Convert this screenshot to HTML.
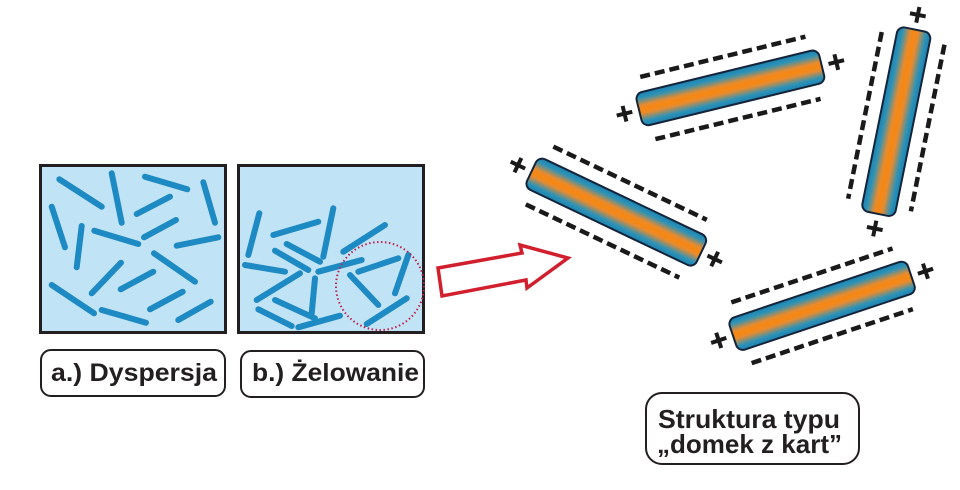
<!DOCTYPE html>
<html><head><meta charset="utf-8"><style>
html,body{margin:0;padding:0;background:#fff;}
svg{display:block;}
text{font-family:"Liberation Sans",Arial,sans-serif;font-weight:bold;fill:#231f20;}
</style></head><body>
<svg width="960" height="490" viewBox="0 0 960 490" xmlns="http://www.w3.org/2000/svg">
<defs>
<linearGradient id="rg" x1="0" y1="0" x2="0" y2="1">
<stop offset="0" stop-color="#1a82b2"/>
<stop offset="0.16" stop-color="#2f93b6"/>
<stop offset="0.38" stop-color="#e68b30"/>
<stop offset="0.5" stop-color="#f8870f"/>
<stop offset="0.62" stop-color="#e68b30"/>
<stop offset="0.84" stop-color="#2f93b6"/>
<stop offset="1" stop-color="#1a82b2"/>
</linearGradient>
<g id="rod">
<line x1="-85" y1="-32" x2="85" y2="-32" stroke="#1a1a1a" stroke-width="4.5" stroke-dasharray="10 5"/>
<line x1="-85" y1="32" x2="85" y2="32" stroke="#1a1a1a" stroke-width="4.5" stroke-dasharray="10 5"/>
<rect x="-94" y="-17" width="188" height="34" rx="7" fill="url(#rg)" stroke="#14243a" stroke-width="2"/>
<path d="M-117 0 H-101 M-109 -8 V8 M101 0 H117 M109 -8 V8" stroke="#1a1a1a" stroke-width="4"/>
</g>
</defs>

<!-- Box a -->
<rect x="40.5" y="165.5" width="185" height="167" fill="#c0e3f5" stroke="#231f20" stroke-width="3"/>
<g stroke="#1e8ac4" stroke-width="6" stroke-linecap="round">
<line x1="59.3" y1="179.3" x2="101.7" y2="206.7"/>
<line x1="111.7" y1="173.3" x2="121.7" y2="222.7"/>
<line x1="145" y1="176.7" x2="187.3" y2="189.3"/>
<line x1="203.3" y1="182.3" x2="215" y2="222.7"/>
<line x1="51.7" y1="206.7" x2="65" y2="247.3"/>
<line x1="136.7" y1="214" x2="170" y2="196.7"/>
<line x1="81.7" y1="226" x2="76.7" y2="267.3"/>
<line x1="94.3" y1="230.7" x2="138.3" y2="244"/>
<line x1="144" y1="237.3" x2="176" y2="220"/>
<line x1="176.7" y1="245.7" x2="218.3" y2="237.3"/>
<line x1="154" y1="253.3" x2="195" y2="281.7"/>
<line x1="91.7" y1="293.3" x2="121" y2="262.7"/>
<line x1="120.7" y1="289.3" x2="153.3" y2="271.7"/>
<line x1="51.7" y1="285" x2="94" y2="313.3"/>
<line x1="101.7" y1="310" x2="146" y2="322.7"/>
<line x1="150" y1="309.3" x2="182.7" y2="291.7"/>
<line x1="178.3" y1="320" x2="210.7" y2="301.7"/>
</g>

<!-- Box b -->
<rect x="238.5" y="165.5" width="185" height="167" fill="#c0e3f5" stroke="#231f20" stroke-width="3"/>
<g stroke="#1e8ac4" stroke-width="6" stroke-linecap="round">
<line x1="259.3" y1="213.3" x2="248.3" y2="255"/>
<line x1="273.3" y1="235" x2="318.3" y2="221.7"/>
<line x1="333.3" y1="208.3" x2="323.3" y2="256.7"/>
<line x1="286.7" y1="244" x2="320" y2="261.7"/>
<line x1="275" y1="250.7" x2="308.3" y2="270"/>
<line x1="245" y1="265" x2="285" y2="271.7"/>
<line x1="343.3" y1="251.7" x2="385" y2="225"/>
<line x1="318.3" y1="271.7" x2="361.7" y2="260"/>
<line x1="358.3" y1="271.7" x2="398.3" y2="258.3"/>
<line x1="300" y1="273.3" x2="256.7" y2="300"/>
<line x1="315" y1="278.3" x2="311.7" y2="313.3"/>
<line x1="408.3" y1="255" x2="395" y2="293.3"/>
<line x1="350" y1="275" x2="378.3" y2="305"/>
<line x1="275" y1="300" x2="315" y2="318.3"/>
<line x1="258.3" y1="309.3" x2="291.7" y2="326"/>
<line x1="298.3" y1="327.3" x2="340" y2="315.7"/>
<line x1="366.7" y1="324" x2="406.7" y2="298.3"/>
</g>
<circle cx="380" cy="286" r="44" fill="none" stroke="#c4214f" stroke-width="2" stroke-dasharray="1.5 2.5"/>

<!-- Labels -->
<rect x="41" y="350" width="184" height="46" rx="10" fill="#fff" stroke="#231f20" stroke-width="2"/>
<text x="51" y="381" font-size="25" textLength="166" lengthAdjust="spacingAndGlyphs">a.) Dyspersja</text>
<rect x="241" y="351" width="183" height="46" rx="10" fill="#fff" stroke="#231f20" stroke-width="2"/>
<text x="252" y="381" font-size="25" textLength="167" lengthAdjust="spacingAndGlyphs">b.) Żelowanie</text>

<!-- Arrow -->
<polygon points="438,268 522,253 520,245 568,258 527,288 526,280 442,296" fill="#fff" stroke="#d11f2e" stroke-width="3.5" stroke-linejoin="miter"/>

<!-- Rods -->
<use href="#rod" transform="translate(616.3,212.1) rotate(25.5)"/>
<use href="#rod" transform="translate(730.4,87.9) rotate(-13.7)"/>
<use href="#rod" transform="translate(896.3,121.7) rotate(101.4)"/>
<use href="#rod" transform="translate(822.1,305.8) rotate(-18.5)"/>

<!-- Label c -->
<rect x="646" y="393" width="213" height="71" rx="16" fill="#fff" stroke="#231f20" stroke-width="2"/>
<text x="658" y="428" font-size="26" textLength="182" lengthAdjust="spacingAndGlyphs">Struktura typu</text>
<text x="657" y="453" font-size="26" textLength="185" lengthAdjust="spacingAndGlyphs">„domek z kart”</text>
</svg>
</body></html>
